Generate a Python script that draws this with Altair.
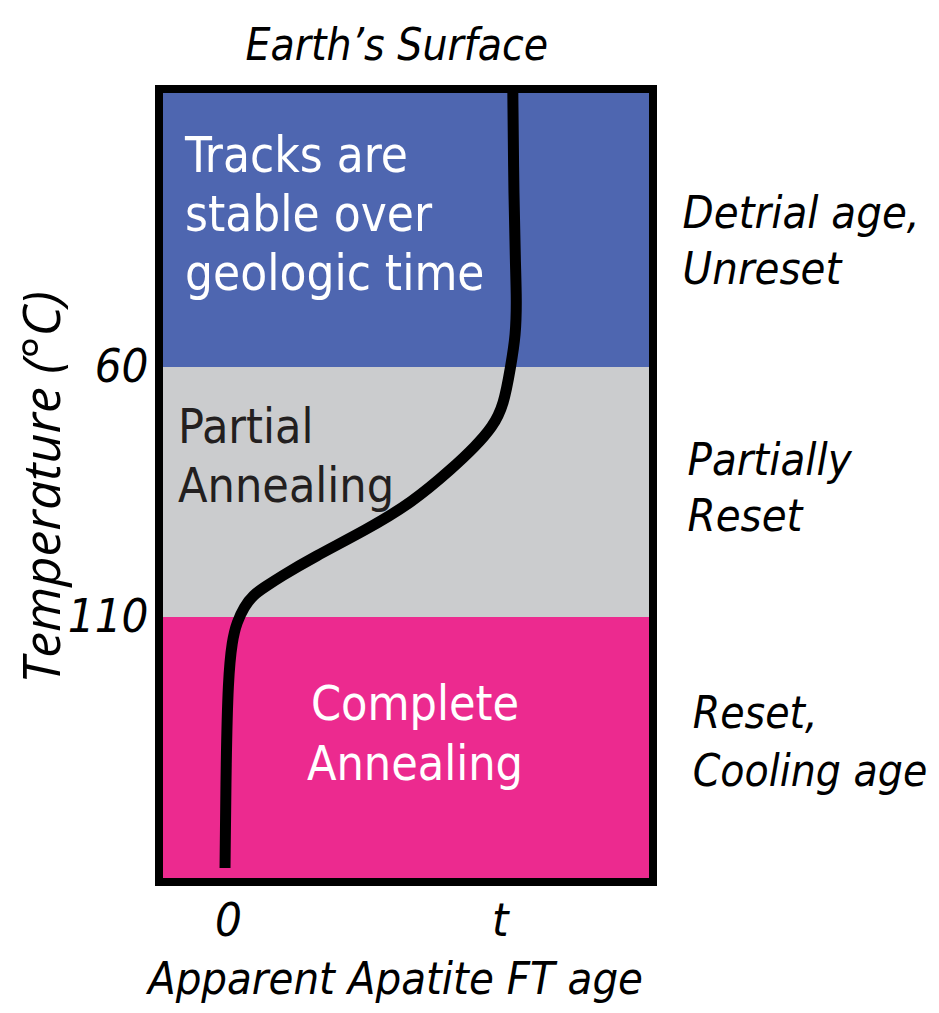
import altair as alt
import pandas as pd

# ---- data ----
band_names = ["Stable", "Partial", "Complete"]
band_top = [4.4, 60, 110]          # temperature (°C) at top of band
band_bottom = [60, 110, 163]       # temperature (°C) at bottom of band
band_colors = ["#4E66B0", "#CBCCCE", "#EC2A8F"]

# apparent age (fraction of t) vs temperature along the curve
curve_age = [1.048, 1.052, 1.058, 1.062, 1.059, 1.040, 1.015, 0.974, 0.908,
             0.831, 0.676, 0.507, 0.316, 0.191, 0.136, 0.092, 0.059, 0.033,
             0.015, 0.0, -0.007, -0.011]
curve_temp = [4.4, 26.6, 40.0, 46.6, 53.6, 60, 67.6, 72, 76,
              80, 87.2, 92.6, 98, 102, 104, 105.6, 108, 111,
              114.6, 122.6, 138.6, 160.2]

x_ticks = [0, 1]
y_ticks = [60, 110]
x_domain = [-0.254, 1.564]
y_domain = [4.4, 163]

NARROW = "DejaVu Sans Condensed, Open Sans"
REG = "Open Sans"

x_enc = alt.X(
    "age:Q",
    scale=alt.Scale(domain=x_domain, nice=False, zero=False),
    axis=alt.Axis(
        values=x_ticks, labelExpr="datum.value == 0 ? '0' : 't'",
        domain=False, ticks=False, grid=False,
        labelFont=NARROW, labelFontSize=47, labelFontStyle="italic",
        labelColor="black", labelPadding=16,
        title="Apparent Apatite FT age", titleFont=NARROW, titleFontSize=45,
        titleFontStyle="italic", titleFontWeight="normal", titleColor="black",
        titleX=236, titleY=111, titleBaseline="alphabetic", titleAlign="center",
    ),
)
y_enc = alt.Y(
    "temp:Q",
    scale=alt.Scale(domain=y_domain, nice=False, zero=False, reverse=True),
    axis=alt.Axis(
        values=y_ticks, domain=False, ticks=False, grid=False,
        labelFont=NARROW, labelFontSize=47, labelFontStyle="italic",
        labelColor="black", labelPadding=11,
        title="Temperature (°C)", titleFont=REG, titleFontSize=52,
        titleFontStyle="italic", titleFontWeight="normal", titleColor="black",
        titleAngle=270, titleX=-100, titleY=398, titleBaseline="alphabetic",
        titleAlign="center",
    ),
)

bands = pd.DataFrame({"band": band_names, "temp": band_top, "temp2": band_bottom})
bands_layer = alt.Chart(bands).mark_rect().encode(
    y=y_enc, y2="temp2:Q",
    color=alt.Color("band:N", scale=alt.Scale(domain=band_names, range=band_colors), legend=None),
)

curve = pd.DataFrame({"age": curve_age, "temp": curve_temp, "i": list(range(len(curve_age)))})
curve_layer = alt.Chart(curve).mark_line(
    color="black", strokeWidth=11, interpolate="basis", strokeCap="butt"
).encode(x=x_enc, y=y_enc, order="i:Q")

frame = pd.DataFrame({"age": [x_domain[0]], "age2": [x_domain[1]],
                      "temp": [y_domain[0]], "temp2": [y_domain[1]]})
frame_layer = alt.Chart(frame).mark_rect(
    fillOpacity=0, stroke="black", strokeWidth=8
).encode(x=x_enc, x2="age2:Q", y=y_enc, y2="temp2:Q")


def note(label, age, temp, color, size, align="left", font=NARROW, style="normal", lh=59):
    df = pd.DataFrame({"age": [age], "temp": [temp], "label": [label]})
    return alt.Chart(df).mark_text(
        align=align, baseline="alphabetic", font=font, fontSize=size,
        fontStyle=style, color=color, lineBreak="\n", lineHeight=lh,
    ).encode(x=x_enc, y=y_enc, text="label:N")


notes = [
    note("Tracks are\nstable over\ngeologic time", -0.158, 21.0, "white", 49),
    note("Partial\nAnnealing", -0.184, 75.2, "#231F20", 48),
    note("Complete\nAnnealing", 0.688, 130.6, "white", 48, align="center", lh=60),
    note("Detrial age,\nUnreset", 1.673, 32.2, "black", 45, style="italic", lh=56),
    note("Partially\nReset", 1.691, 81.6, "black", 45, style="italic", lh=56),
    note("Reset,\nCooling age", 1.710, 132.2, "black", 44, style="italic", lh=58),
    note("Earth\u2019s Surface", 0.621, -1.4, "black", 44, align="center", style="italic"),
]

chart = alt.layer(bands_layer, curve_layer, frame_layer, *notes).properties(
    width=494, height=793,
    padding={"left": 151, "top": 81, "right": 278, "bottom": 122},
    autosize=alt.AutoSizeParams(type="none"),
).configure_view(stroke=None)

chart.save("out.html", embed_options={"renderer": "svg", "actions": False})
